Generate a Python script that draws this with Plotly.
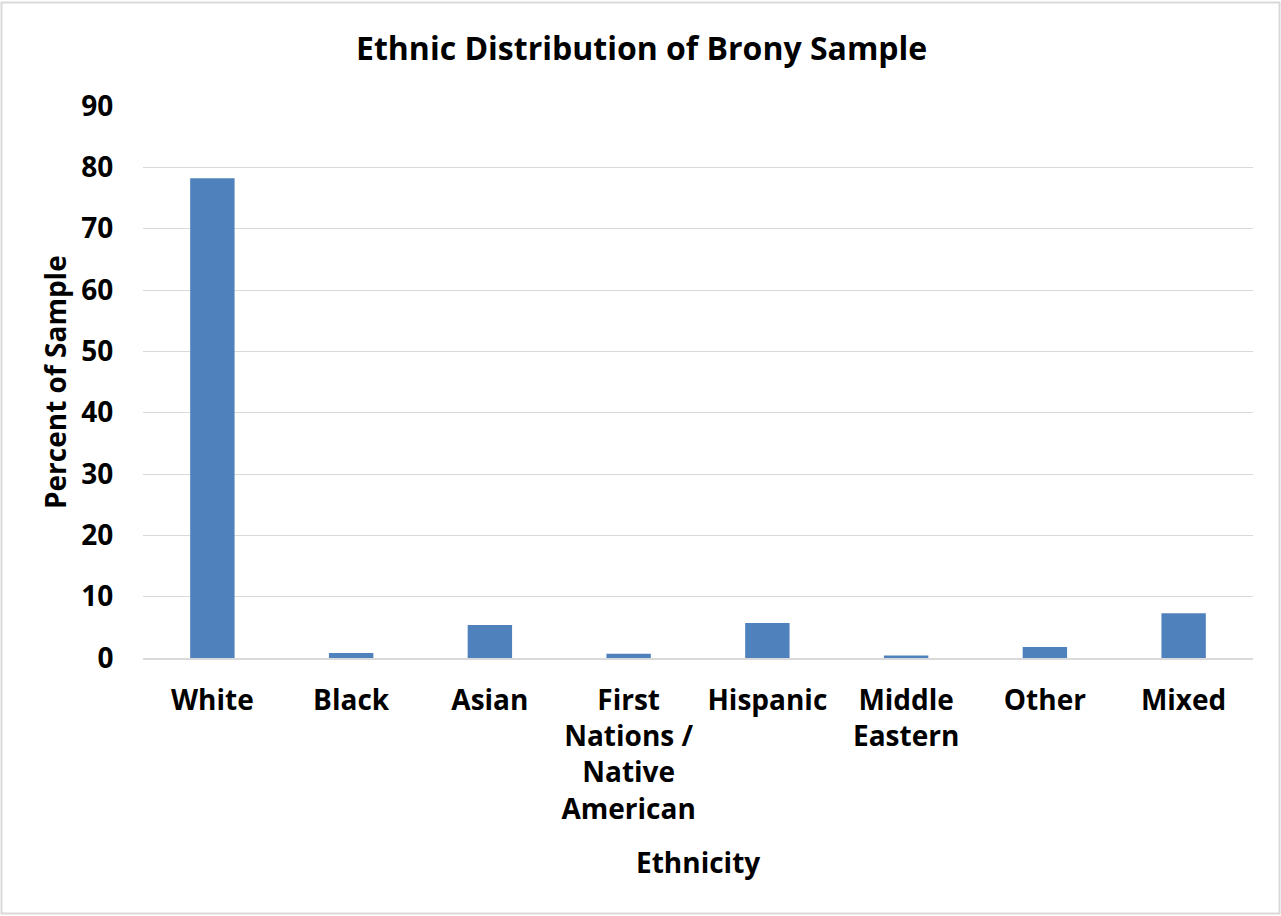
import plotly.graph_objects as go

# Share of the sample by ethnicity (percent)
categories = ["White", "Black", "Asian", "First<br>Nations /<br>Native<br>American",
              "Hispanic", "Middle<br>Eastern", "Other", "Mixed"]
percent = [78.2, 0.8, 5.4, 0.7, 5.7, 0.4, 1.8, 7.3]
y_ticks = [0, 10, 20, 30, 40, 50, 60, 70, 80, 90]

W, H = 1281, 916
ML, MR, MT, MB = 143, 28, 106, 258
PW, PH = W - ML - MR, H - MT - MB

FONT = dict(family="Open Sans", size=28, color="#000000", weight=700)

fig = go.Figure(go.Bar(
    x=categories,
    y=percent,
    marker=dict(color="#4f81bd", line=dict(width=0)),
    width=0.32,
))

def px_x(v):
    return (v - ML) / PW

def px_y(v):
    return (H - MB - v) / PH

fig.update_layout(
    width=W, height=H,
    margin=dict(l=ML, r=MR, t=MT, b=MB, autoexpand=False),
    paper_bgcolor="white", plot_bgcolor="white",
    showlegend=False,
    font=FONT,
    xaxis=dict(
        showgrid=False, showline=True, linecolor="#d9d9d9", linewidth=2,
        ticks="", tickfont=FONT, ticklabelstandoff=16,
        zeroline=False,
    ),
    yaxis=dict(
        range=[0, 90], tickvals=y_ticks, showgrid=True, gridcolor="#d9d9d9",
        gridwidth=1.3, zeroline=False, showline=False,
        ticks="outside", ticklen=10, tickcolor="rgba(0,0,0,0)",
        tickfont=FONT, ticklabelstandoff=13,
    ),
    annotations=[
        dict(text="Ethnic Distribution of Brony Sample", xref="paper", yref="paper",
             x=px_x(641), y=px_y(47), xanchor="center", yanchor="middle",
             showarrow=False, font=dict(FONT, size=32)),
        dict(text="Percent of Sample", xref="paper", yref="paper",
             x=px_x(55), y=px_y(382), xanchor="center", yanchor="middle",
             textangle=-90, showarrow=False, font=FONT),
        dict(text="Ethnicity", xref="paper", yref="paper",
             x=px_x(698), y=px_y(862), xanchor="center", yanchor="middle",
             showarrow=False, font=FONT),
    ],
    shapes=[
        dict(type="rect", xref="paper", yref="paper",
             x0=px_x(1.5), x1=px_x(1279.5), y0=px_y(2.5), y1=px_y(913.5),
             line=dict(color="#d9d9d9", width=2), fillcolor="rgba(0,0,0,0)",
             layer="below"),
    ],
)

fig.write_html("out.html")
